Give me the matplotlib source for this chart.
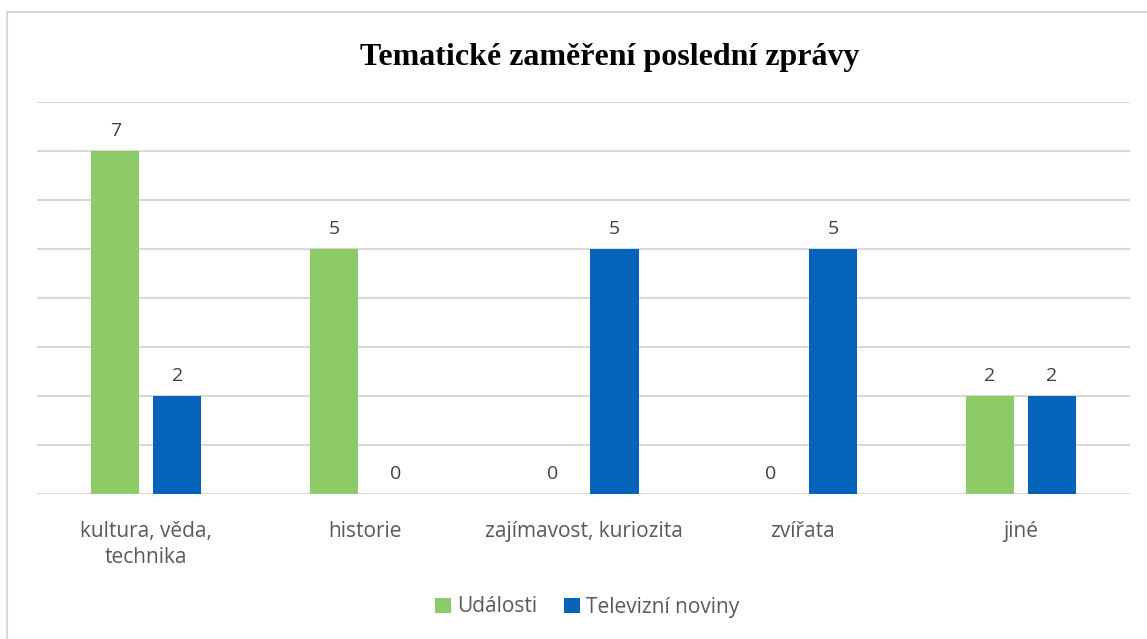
import matplotlib.pyplot as plt
import matplotlib.patches as mpatches
import numpy as np

categories = ["kultura, věda,\ntechnika", "historie", "zajímavost, kuriozita", "zvířata", "jiné"]
udalosti = [7, 5, 0, 0, 2]
televizni_noviny = [2, 0, 5, 5, 2]
series_names = ["Události", "Televizní noviny"]

green = "#8CCB67"
blue = "#0663BA"
text_gray = "#595959"

fig = plt.figure(figsize=(11.47, 6.39), dpi=100)
ax = fig.add_axes([37/1147, 1 - 494/639, (1130 - 37)/1147, (494 - 102)/639])

x = np.arange(len(categories))
w = 0.22
off = 0.142
b1 = ax.bar(x - off, udalosti, w, color=green, label=series_names[0], zorder=3)
b2 = ax.bar(x + off, televizni_noviny, w, color=blue, label=series_names[1], zorder=3)

for bars, vals in [(b1, udalosti), (b2, televizni_noviny)]:
    for r, v in zip(bars, vals):
        ax.text(r.get_x() + r.get_width()/2, v + 0.22, str(v), ha="center", va="bottom",
                fontsize=14, color="#404040", family="Open Sans")

ax.set_xlim(-0.5, len(categories) - 0.5)
ax.set_ylim(0, 8)
ax.set_yticks(range(0, 9))
ax.yaxis.grid(True, color="#D9D9D9", linewidth=1.5, zorder=0)
ax.tick_params(axis="y", left=False, labelleft=False)
ax.tick_params(axis="x", bottom=False, pad=16)
ax.set_xticks(x)
ax.set_xticklabels(categories, fontsize=15, color=text_gray, family="Open Sans", linespacing=1.3)
for s in ax.spines.values():
    s.set_visible(False)

fig.text(610/1147, 1 - 57/639, "Tematické zaměření poslední zprávy", ha="center", va="center",
         fontsize=23, fontweight="bold", family="Liberation Serif")

fig.legend(handles=[b1, b2], labels=series_names, loc="center", bbox_to_anchor=(587/1147, 1 - 607/639),
           ncol=2, frameon=False, handlelength=0.75, handleheight=0.75,
           handletextpad=0.3, columnspacing=1.3, labelcolor=text_gray, prop={"family": "Open Sans", "size": 15})

fig.patches.append(mpatches.Rectangle((7/1147, -0.05), 1.1, 1 - 12/639 + 0.05, transform=fig.transFigure,
                                      fill=False, edgecolor="#D9D9D9", linewidth=1.5))

fig.savefig("out.png", dpi=100)
